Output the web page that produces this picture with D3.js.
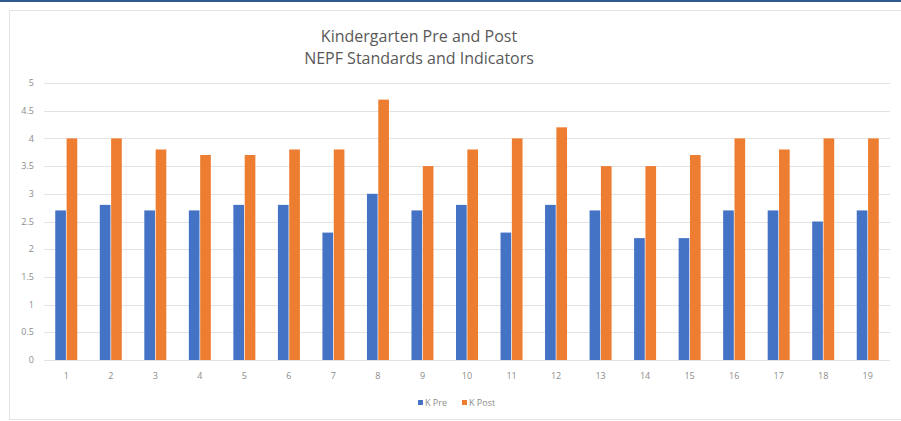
<!DOCTYPE html>
<html lang="en">
<head>
    <meta charset="UTF-8">
    <title>Kindergarten Pre and Post</title>
    <script src="https://d3js.org/d3.v7.min.js"></script>
    <style>
        body { margin: 0; background: #fff; }
        text { font-family: "Open Sans", "Liberation Sans", sans-serif; }
        .grid line { stroke: #e3e3e3; stroke-width: 1px; }
        .tick-label { fill: #8c8c8c; font-size: 9px; }
    </style>
</head>
<body>
    <script>
        // Chart data
        const categories = ["1", "2", "3", "4", "5", "6", "7", "8", "9", "10",
                            "11", "12", "13", "14", "15", "16", "17", "18", "19"];
        const kPre  = [2.7, 2.8, 2.7, 2.7, 2.8, 2.8, 2.3, 3.0, 2.7, 2.8,
                       2.3, 2.8, 2.7, 2.2, 2.2, 2.7, 2.7, 2.5, 2.7];
        const kPost = [4.0, 4.0, 3.8, 3.7, 3.7, 3.8, 3.8, 4.7, 3.5, 3.8,
                       4.0, 4.2, 3.5, 3.5, 3.7, 4.0, 3.8, 4.0, 4.0];
        const yTicks = [0, 0.5, 1, 1.5, 2, 2.5, 3, 3.5, 4, 4.5, 5];
        const seriesNames = ["K Pre", "K Post"];
        const titleLines = ["Kindergarten Pre and Post", "NEPF Standards and Indicators"];

        const width = 901;
        const height = 421;
        const colors = ["#4472c4", "#ed7d31"];

        const svg = d3.select("body")
            .append("svg")
            .attr("width", width)
            .attr("height", height);

        // window frame stripe and chart border
        svg.append("rect")
            .attr("x", 0).attr("y", 0)
            .attr("width", width).attr("height", 2)
            .attr("fill", "#2e5a8f");
        svg.append("rect")
            .attr("x", 9.5).attr("y", 10.5)
            .attr("width", width + 10).attr("height", 409)
            .attr("fill", "none")
            .attr("stroke", "#e4e4e4");

        const margin = {left: 44, right: 11, top: 83, bottom: 61};

        const x = d3.scaleBand()
            .domain(categories)
            .range([margin.left, width - margin.right]);

        const y = d3.scaleLinear()
            .domain([0, 5])
            .range([height - margin.bottom, margin.top]);

        const groupWidth = 22;
        const xSub = d3.scaleBand()
            .domain(seriesNames)
            .range([0, groupWidth])
            .paddingInner(0.06);

        // gridlines
        svg.append("g")
            .attr("class", "grid")
            .selectAll("line")
            .data(yTicks)
            .enter()
            .append("line")
            .attr("x1", margin.left)
            .attr("x2", width - margin.right)
            .attr("y1", d => Math.round(y(d)) + 0.5)
            .attr("y2", d => Math.round(y(d)) + 0.5)
            .attr("stroke", d => d === 0 ? "#d9d9d9" : "#e6e6e6");

        // y tick labels
        svg.append("g")
            .selectAll("text")
            .data(yTicks)
            .enter()
            .append("text")
            .attr("class", "tick-label")
            .attr("x", 34)
            .attr("y", d => y(d))
            .attr("dy", "0.35em")
            .attr("text-anchor", "end")
            .text(d => d);

        // x tick labels
        svg.append("g")
            .selectAll("text")
            .data(categories)
            .enter()
            .append("text")
            .attr("class", "tick-label")
            .attr("x", d => x(d) + x.bandwidth() / 2)
            .attr("y", y(0) + 19)
            .attr("text-anchor", "middle")
            .text(d => d);

        // bars
        const rows = categories.map((c, i) => ({cat: c, values: [kPre[i], kPost[i]]}));
        const groups = svg.append("g")
            .selectAll("g")
            .data(rows)
            .enter()
            .append("g")
            .attr("transform", d => `translate(${x(d.cat) + (x.bandwidth() - groupWidth) / 2},0)`);

        groups.selectAll("rect")
            .data(d => d.values.map((v, j) => ({key: seriesNames[j], value: v, j: j})))
            .enter()
            .append("rect")
            .attr("x", d => xSub(d.key))
            .attr("width", xSub.bandwidth())
            .attr("y", d => y(d.value))
            .attr("height", d => y(0) - y(d.value))
            .attr("fill", d => colors[d.j]);

        // title
        svg.append("g")
            .selectAll("text")
            .data(titleLines)
            .enter()
            .append("text")
            .attr("x", 419)
            .attr("y", (d, i) => 42 + i * 22)
            .attr("text-anchor", "middle")
            .attr("fill", "#595959")
            .attr("font-size", "16px")
            .text(d => d);

        // legend
        const legendX = [418, 462];
        const legend = svg.append("g")
            .selectAll("g")
            .data(seriesNames)
            .enter()
            .append("g")
            .attr("transform", (d, i) => `translate(${legendX[i]},403)`);
        legend.append("rect")
            .attr("x", 0).attr("y", -3)
            .attr("width", 5).attr("height", 5)
            .attr("fill", (d, i) => colors[i]);
        legend.append("text")
            .attr("class", "tick-label")
            .attr("x", 7)
            .attr("dy", "0.35em")
            .text(d => d);
    </script>
</body>
</html>
